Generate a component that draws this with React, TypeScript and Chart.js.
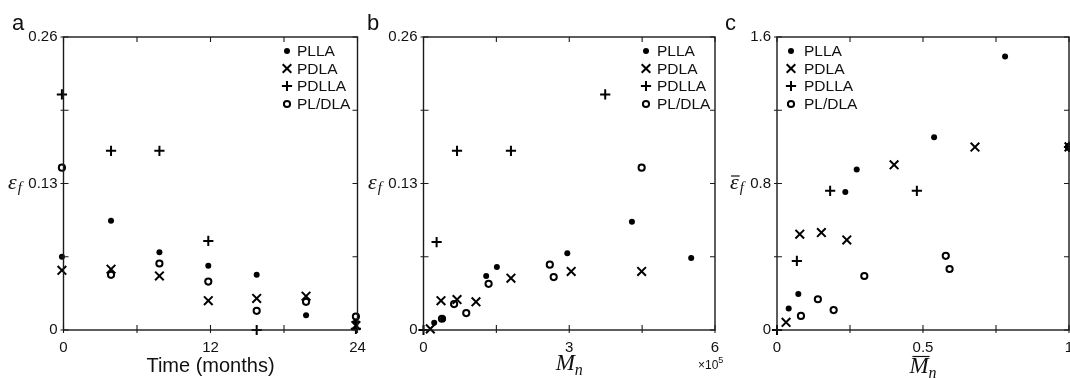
import React, { useEffect, useRef } from 'react';
import { Chart, registerables } from 'chart.js';

Chart.register(...registerables);

// ---------------- data ----------------
// Panel a: strain at failure vs. time (months)
const aTime = [-0.13, 3.88, 7.83, 11.82, 15.77, 19.8, 23.87];
const aPLLA = [0.065, 0.097, 0.069, 0.057, 0.049, 0.013, 0.007];
const aPDLA = [0.053, 0.054, 0.048, 0.026, 0.028, 0.030, 0.004];
const aTimePDLLA = [-0.13, 3.88, 7.83, 11.82, 15.77, 23.87];
const aPDLLA = [0.209, 0.159, 0.159, 0.079, 0.0, 0.001];
const aPLDLA = [0.144, 0.049, 0.059, 0.043, 0.017, 0.025, 0.012];

// Panel b: strain at failure vs. Mn (x 10^5)
const bMnPLLA = [0.22, 0.40, 1.29, 1.51, 2.96, 4.29, 5.51];
const bPLLA = [0.0065, 0.010, 0.048, 0.056, 0.068, 0.096, 0.064];
const bMnPDLA = [0.14, 0.36, 0.69, 1.08, 1.80, 3.04, 4.49];
const bPDLA = [0.001, 0.026, 0.027, 0.025, 0.046, 0.052, 0.052];
const bMnPDLLA = [0, 0.27, 0.69, 1.80, 3.74];
const bPDLLA = [0, 0.078, 0.159, 0.159, 0.209];
const bMnPLDLA = [0.38, 0.63, 0.88, 1.34, 2.60, 2.68, 4.49];
const bPLDLA = [0.010, 0.023, 0.015, 0.041, 0.058, 0.047, 0.144];

// Panel c: normalised strain vs. normalised Mn
const cMnPLLA = [0.040, 0.073, 0.234, 0.273, 0.538, 0.781, 1.0];
const cPLLA = [0.118, 0.197, 0.753, 0.877, 1.053, 1.494, 1.0];
const cMnPDLA = [0.031, 0.078, 0.152, 0.239, 0.401, 0.678, 1.0];
const cPDLA = [0.042, 0.523, 0.532, 0.492, 0.902, 0.999, 1.0];
const cMnPDLLA = [0, 0.068, 0.182, 0.479, 1.0];
const cPDLLA = [0, 0.377, 0.760, 0.760, 1.0];
const cMnPLDLA = [0.082, 0.140, 0.194, 0.299, 0.578, 0.591, 1.0];
const cPLDLA = [0.077, 0.168, 0.109, 0.295, 0.405, 0.333, 1.0];

const seriesNames = ['PLLA', 'PDLA', 'PDLLA', 'PL/DLA'];

const abYTicks = [0, 0.065, 0.13, 0.195, 0.26];
const abYTickLabels = ['0', '', '0.13', '', '0.26'];
const aXTicks = [0, 6, 12, 18, 24];
const aXTickLabels = ['0', '', '12', '', '24'];
const bXTicks = [0, 1.5, 3, 4.5, 6];
const bXTickLabels = ['0', '', '3', '', '6'];
const cXTicks = [0, 0.25, 0.5, 0.75, 1];
const cXTickLabels = ['0', '', '0.5', '', '1'];
const cYTicks = [0, 0.4, 0.8, 1.2, 1.6];
const cYTickLabels = ['0', '', '0.8', '', '1.6'];

// ---------------- layout / style ----------------
const W = 1100;
const H = 378;
const PLOT_TOP = 37;
const PLOT_BOTTOM = 330;
const SANS = '"Liberation Sans", Arial, Helvetica, sans-serif';
const SERIF = '"Liberation Serif", "DejaVu Serif", serif';
const INK = '#111';

type Marker = 'dot' | 'x' | 'plus' | 'ring';
const markers: Marker[] = ['dot', 'x', 'plus', 'ring'];

function pts(xs: number[], ys: number[]) {
  return xs.map((x, i) => ({ x, y: ys[i] }));
}

function datasetStyle(m: Marker) {
  switch (m) {
    case 'dot':
      return { pointStyle: 'circle', pointRadius: 3, pointBackgroundColor: '#000', pointBorderColor: '#000', pointBorderWidth: 0 };
    case 'x':
      return { pointStyle: 'crossRot', pointRadius: 6.1, pointBackgroundColor: '#000', pointBorderColor: '#000', pointBorderWidth: 2 };
    case 'plus':
      return { pointStyle: 'cross', pointRadius: 5.1, pointBackgroundColor: '#000', pointBorderColor: '#000', pointBorderWidth: 2 };
    default:
      return { pointStyle: 'circle', pointRadius: 3.1, pointBackgroundColor: 'rgba(0,0,0,0)', pointBorderColor: '#000', pointBorderWidth: 2 };
  }
}

function drawMarker(ctx: CanvasRenderingContext2D, m: Marker, x: number, y: number) {
  ctx.save();
  ctx.fillStyle = '#000';
  ctx.strokeStyle = '#000';
  ctx.lineWidth = 2;
  ctx.beginPath();
  if (m === 'dot') {
    ctx.arc(x, y, 3, 0, Math.PI * 2);
    ctx.fill();
  } else if (m === 'x') {
    const d = 4.3;
    ctx.moveTo(x - d, y - d); ctx.lineTo(x + d, y + d);
    ctx.moveTo(x - d, y + d); ctx.lineTo(x + d, y - d);
    ctx.stroke();
  } else if (m === 'plus') {
    const d = 5.1;
    ctx.moveTo(x - d, y); ctx.lineTo(x + d, y);
    ctx.moveTo(x, y - d); ctx.lineTo(x, y + d);
    ctx.stroke();
  } else {
    ctx.arc(x, y, 3.1, 0, Math.PI * 2);
    ctx.stroke();
  }
  ctx.restore();
}

type Panel = {
  letter: string;
  letterX: number;
  plotLeft: number;
  plotRight: number;
  xMin: number; xMax: number; xTicks: number[]; xTickLabels: string[];
  yMin: number; yMax: number; yTicks: number[]; yTickLabels: string[];
  data: { x: number; y: number }[][];
  legendMarkerX: number;
  legendTextX: number;
  yLabelX: number;
  yBar: boolean;
  xTitle: 'time' | 'mn' | 'mnbar';
};

const panels: Panel[] = [
  {
    letter: 'a', letterX: 12, plotLeft: 63.5, plotRight: 357.5,
    xMin: 0, xMax: 24, xTicks: aXTicks, xTickLabels: aXTickLabels,
    yMin: 0, yMax: 0.26, yTicks: abYTicks, yTickLabels: abYTickLabels,
    data: [pts(aTime, aPLLA), pts(aTime, aPDLA), pts(aTimePDLLA, aPDLLA), pts(aTime, aPLDLA)],
    legendMarkerX: 287, legendTextX: 297, yLabelX: 8, yBar: false, xTitle: 'time',
  },
  {
    letter: 'b', letterX: 367, plotLeft: 423.5, plotRight: 715,
    xMin: 0, xMax: 6, xTicks: bXTicks, xTickLabels: bXTickLabels,
    yMin: 0, yMax: 0.26, yTicks: abYTicks, yTickLabels: abYTickLabels,
    data: [pts(bMnPLLA, bPLLA), pts(bMnPDLA, bPDLA), pts(bMnPDLLA, bPDLLA), pts(bMnPLDLA, bPLDLA)],
    legendMarkerX: 646, legendTextX: 657, yLabelX: 368, yBar: false, xTitle: 'mn',
  },
  {
    letter: 'c', letterX: 725, plotLeft: 777, plotRight: 1069,
    xMin: 0, xMax: 1, xTicks: cXTicks, xTickLabels: cXTickLabels,
    yMin: 0, yMax: 1.6, yTicks: cYTicks, yTickLabels: cYTickLabels,
    data: [pts(cMnPLLA, cPLLA), pts(cMnPDLA, cPDLA), pts(cMnPDLLA, cPDLLA), pts(cMnPLDLA, cPLDLA)],
    legendMarkerX: 791, legendTextX: 804, yLabelX: 730, yBar: true, xTitle: 'mnbar',
  },
];

const legendRows = [51, 68.5, 86, 104];

function decorPlugin(p: Panel) {
  return {
    id: 'decor' + p.letter,
    afterDraw(chart: any) {
      const ctx: CanvasRenderingContext2D = chart.ctx;
      const { left, right, top, bottom } = chart.chartArea;
      const xs = chart.scales.x;
      const ys = chart.scales.y;
      ctx.save();
      // frame
      ctx.strokeStyle = '#1a1a1a';
      ctx.lineWidth = 1.4;
      ctx.strokeRect(left, top, right - left, bottom - top);
      // ticks
      ctx.lineWidth = 1.1;
      ctx.beginPath();
      p.xTicks.forEach((v) => {
        const px = xs.getPixelForValue(v);
        ctx.moveTo(px, bottom + 3); ctx.lineTo(px, bottom - 5);
        ctx.moveTo(px, top); ctx.lineTo(px, top + 5);
      });
      p.yTicks.forEach((v) => {
        const py = ys.getPixelForValue(v);
        ctx.moveTo(left - 3, py); ctx.lineTo(left + 5, py);
        ctx.moveTo(right - 5, py); ctx.lineTo(right, py);
      });
      ctx.stroke();

      // legend
      ctx.fillStyle = INK;
      ctx.font = `15.5px ${SANS}`;
      ctx.textBaseline = 'middle';
      ctx.textAlign = 'left';
      seriesNames.forEach((name, i) => {
        drawMarker(ctx, markers[i], p.legendMarkerX, legendRows[i]);
        ctx.fillStyle = INK;
        ctx.fillText(name, p.legendTextX, legendRows[i] + 1);
      });

      // panel letter
      ctx.font = `22px ${SANS}`;
      ctx.textBaseline = 'alphabetic';
      ctx.fillText(p.letter, p.letterX, 30);

      // y label epsilon_f
      ctx.font = `italic 22px ${SERIF}`;
      ctx.fillText('\u03b5', p.yLabelX, 189);
      const epsW = ctx.measureText('\u03b5').width;
      if (p.yBar) {
        ctx.strokeStyle = INK;
        ctx.lineWidth = 1.2;
        ctx.beginPath();
        ctx.moveTo(p.yLabelX + 1, 176);
        ctx.lineTo(p.yLabelX + epsW + 1, 176);
        ctx.stroke();
      }
      ctx.font = `italic 15px ${SERIF}`;
      ctx.fillText('f', p.yLabelX + epsW + 1, 192);

      // x title
      const cx = (left + right) / 2;
      if (p.xTitle === 'time') {
        ctx.font = `20px ${SANS}`;
        ctx.textAlign = 'center';
        ctx.fillText('Time (months)', cx, 372);
      } else {
        ctx.font = `italic 23px ${SERIF}`;
        const mW = ctx.measureText('M').width;
        ctx.font = `italic 16px ${SERIF}`;
        const nW = ctx.measureText('n').width;
        const x0 = cx - (mW + nW) / 2;
        const base = p.xTitle === 'mnbar' ? 373 : 370;
        ctx.textAlign = 'left';
        ctx.font = `italic 23px ${SERIF}`;
        ctx.fillText('M', x0, base);
        ctx.font = `italic 16px ${SERIF}`;
        ctx.fillText('n', x0 + mW, base + 5);
        if (p.xTitle === 'mnbar') {
          ctx.strokeStyle = INK;
          ctx.lineWidth = 1.2;
          ctx.beginPath();
          ctx.moveTo(x0 + 3, 356.5);
          ctx.lineTo(x0 + mW + 1, 356.5);
          ctx.stroke();
        } else {
          // x10^5 multiplier
          ctx.font = `12px ${SANS}`;
          ctx.fillText('\u00d710', 698, 369);
          const tw = ctx.measureText('\u00d710').width;
          ctx.font = `9px ${SANS}`;
          ctx.fillText('5', 698 + tw, 363);
        }
      }
      ctx.restore();
    },
  };
}

function buildConfig(p: Panel): any {
  return {
    type: 'scatter',
    data: {
      datasets: p.data.map((d, i) => ({
        label: seriesNames[i],
        data: d,
        clip: false,
        ...datasetStyle(markers[i]),
      })),
    },
    options: {
      responsive: false,
      animation: false,
      devicePixelRatio: 1,
      events: [],
      layout: { padding: { left: 0, top: PLOT_TOP, right: W - p.plotRight, bottom: 0 } },
      plugins: { legend: { display: false }, tooltip: { enabled: false } },
      scales: {
        x: {
          type: 'linear',
          min: p.xMin,
          max: p.xMax,
          afterBuildTicks: (s: any) => { s.ticks = p.xTicks.map((v) => ({ value: v })); },
          afterFit: (s: any) => { s.height = H - PLOT_BOTTOM; },
          grid: { display: false, drawTicks: false, tickLength: 0 },
          border: { display: false },
          ticks: {
            autoSkip: false, maxRotation: 0, padding: 8.5, color: INK,
            font: { family: SANS, size: 15 },
            callback: (_v: any, i: number) => p.xTickLabels[i],
          },
        },
        y: {
          type: 'linear',
          min: p.yMin,
          max: p.yMax,
          afterBuildTicks: (s: any) => { s.ticks = p.yTicks.map((v) => ({ value: v })); },
          afterFit: (s: any) => { s.width = p.plotLeft; },
          grid: { display: false, drawTicks: false, tickLength: 0 },
          border: { display: false },
          ticks: {
            autoSkip: false, padding: 6, color: INK,
            font: { family: SANS, size: 15 },
            callback: (_v: any, i: number) => p.yTickLabels[i],
          },
        },
      },
    },
    plugins: [decorPlugin(p)],
  };
}

export default function App() {
  const r0 = useRef<HTMLCanvasElement>(null);
  const r1 = useRef<HTMLCanvasElement>(null);
  const r2 = useRef<HTMLCanvasElement>(null);
  useEffect(() => {
    const refs = [r0, r1, r2];
    const charts = panels.map((p, i) => new Chart(refs[i].current as HTMLCanvasElement, buildConfig(p)));
    return () => charts.forEach((c) => c.destroy());
  }, []);
  const cs: React.CSSProperties = { position: 'absolute', left: 0, top: 0, width: W, height: H };
  return (
    <div style={{ position: 'fixed', left: 0, top: 0, width: 1070, height: 378, overflow: 'hidden', background: '#fff' }}>
      <canvas ref={r0} width={W} height={H} style={cs} />
      <canvas ref={r1} width={W} height={H} style={cs} />
      <canvas ref={r2} width={W} height={H} style={cs} />
    </div>
  );
}
